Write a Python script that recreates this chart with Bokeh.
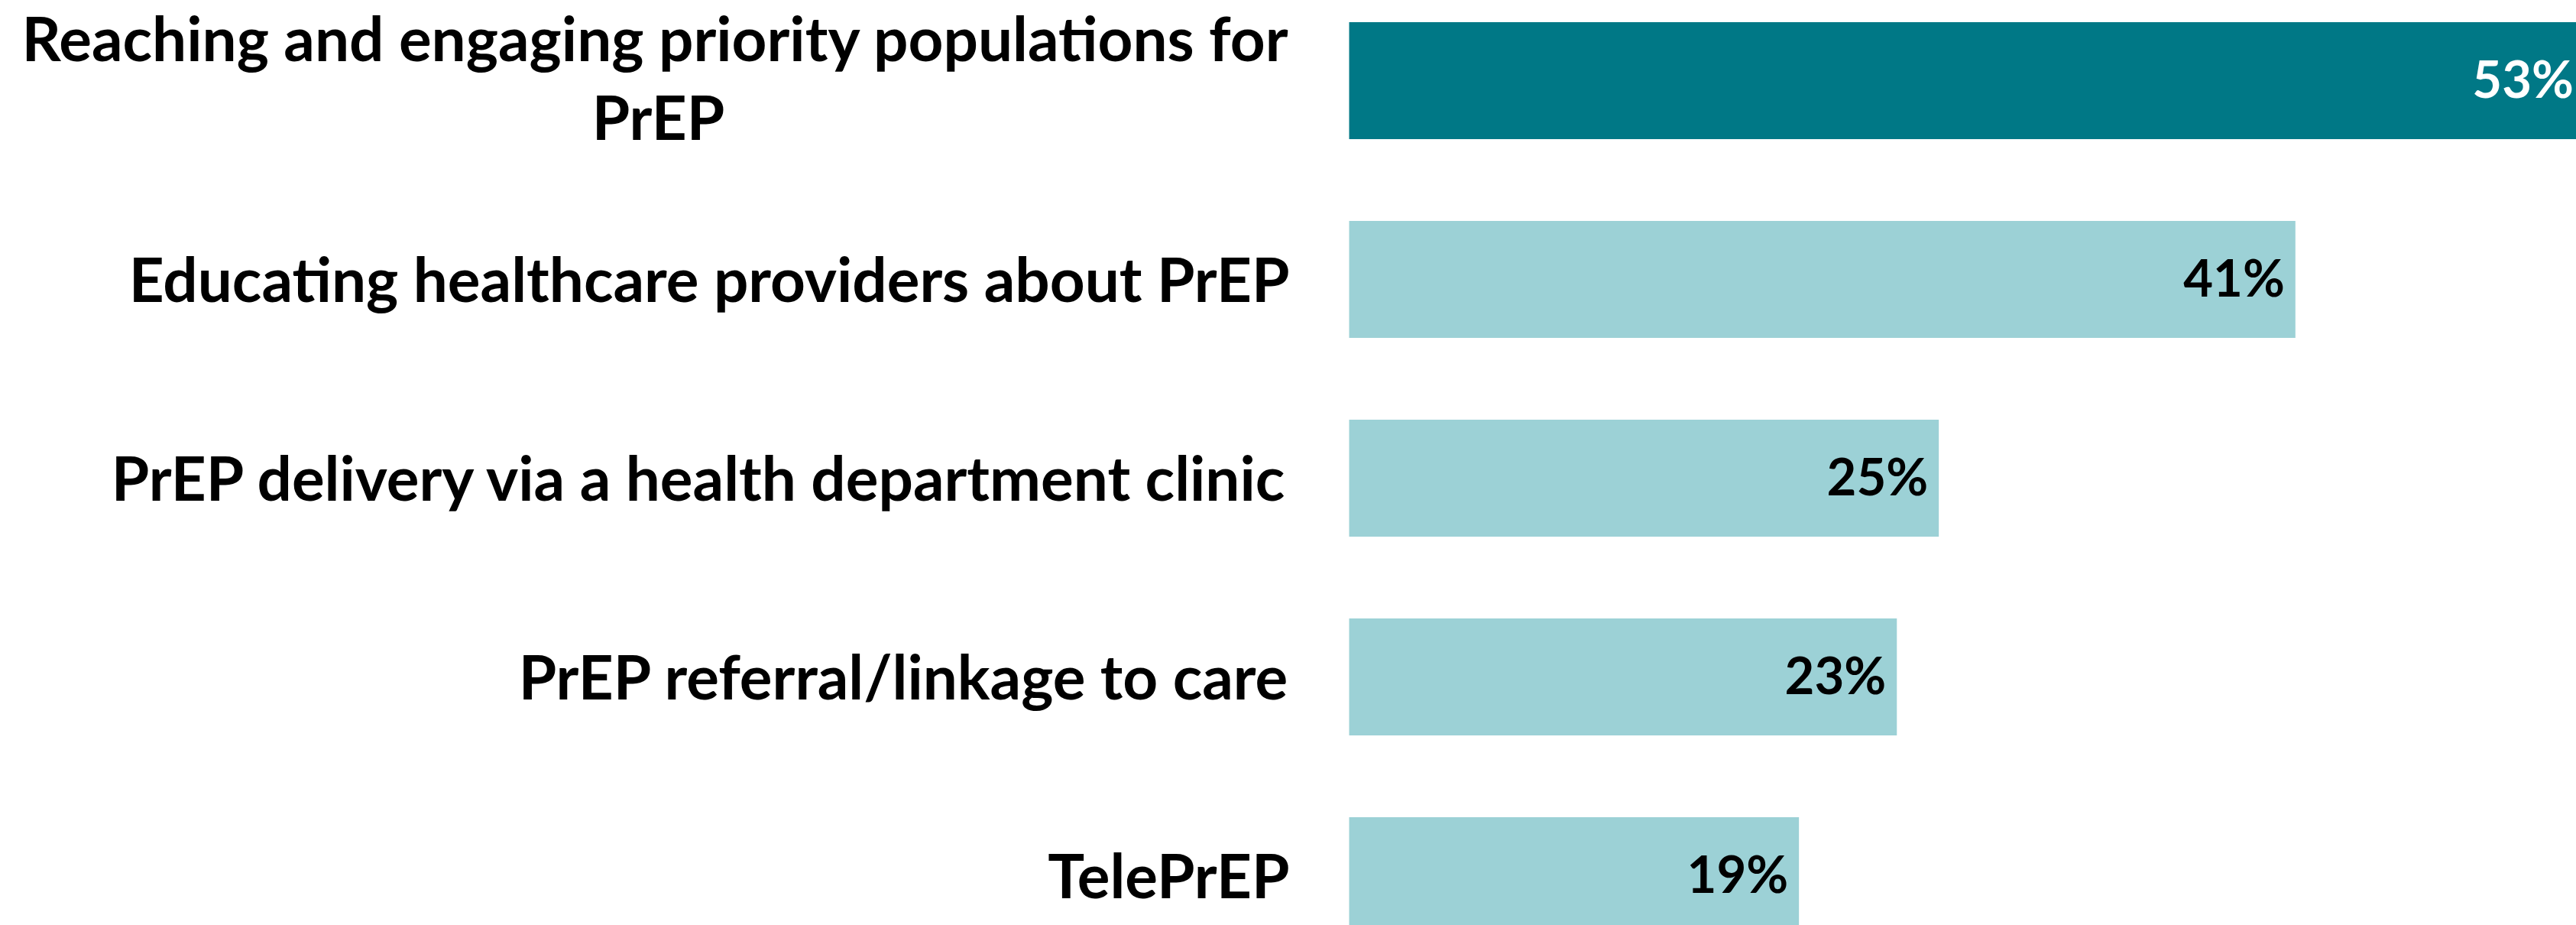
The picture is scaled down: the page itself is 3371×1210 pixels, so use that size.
from bokeh.plotting import figure
from bokeh.models import ColumnDataSource, Range1d
from bokeh.core.properties import value
from bokeh.embed import file_html
from bokeh.resources import INLINE

# ---- data ----
categories = [
    "Reaching and engaging priority populations for\nPrEP",
    "Educating healthcare providers about PrEP",
    "PrEP delivery via a health department clinic",
    "PrEP referral/linkage to care",
    "TelePrEP",
]
values = [53, 40.6, 25.3, 23.5, 19.3]
value_labels = ["53%", "41%", "25%", "23%", "19%"]
bar_colors = ["#007886", "#9cd1d6", "#9cd1d6", "#9cd1d6", "#9cd1d6"]
label_colors = ["#ffffff", "#000000", "#000000", "#000000", "#000000"]

# ---- styling ----
FONT = value("Lato")
W, H = 3371, 1210
PX_PER_UNIT = 30.5
ZERO_PX = 1765
PITCH = 260.0
FIRST_CENTER = 105.0
CAT_SIZE = "80px"
VAL_SIZE = "67px"
LABEL_GAP = 78
MULTI_HALF = 826

idx = list(range(len(categories)))

p = figure(
    width=W, height=H,
    x_range=Range1d(-ZERO_PX / PX_PER_UNIT, (W - ZERO_PX) / PX_PER_UNIT),
    y_range=Range1d((H - FIRST_CENTER) / PITCH, -FIRST_CENTER / PITCH),
    output_backend="svg", toolbar_location=None,
    min_border=0, outline_line_color=None,
)
p.axis.visible = False
p.grid.visible = False
p.background_fill_color = "white"
p.border_fill_color = "white"

src = ColumnDataSource(dict(y=idx, v=values, lab=value_labels,
                            bc=bar_colors, lc=label_colors))
p.hbar(y="y", left=0, right="v", height=153 / PITCH, fill_color="bc",
       line_color=None, source=src)

p.text(x="v", y="y", text="lab", text_color="lc", source=src,
       text_font=FONT, text_font_style="bold", text_font_size=VAL_SIZE,
       text_align="right", text_baseline="alphabetic",
       x_offset=-14, y_offset=-4)

# category labels
single_y, single_t = [], []
for i, c in enumerate(categories):
    parts = c.split("\n")
    if len(parts) == 1:
        single_y.append(i)
        single_t.append(c)
    else:
        p.text(x=[0], y=[i], text=[parts[0]], text_font=FONT,
               text_font_style="bold", text_font_size=CAT_SIZE,
               text_align="right", text_baseline="alphabetic",
               x_offset=-LABEL_GAP, y_offset=-57, text_color="black")
        p.text(x=[0], y=[i], text=[parts[1]], text_font=FONT,
               text_font_style="bold", text_font_size=CAT_SIZE,
               text_align="center", text_baseline="alphabetic",
               x_offset=-LABEL_GAP - MULTI_HALF, y_offset=46, text_color="black")

p.text(x=[0] * len(single_y), y=single_y, text=single_t, text_font=FONT,
       text_font_style="bold", text_font_size=CAT_SIZE,
       text_align="right", text_baseline="alphabetic",
       x_offset=-LABEL_GAP, y_offset=-2, text_color="black")

open("out.html", "w").write(file_html(p, INLINE))
